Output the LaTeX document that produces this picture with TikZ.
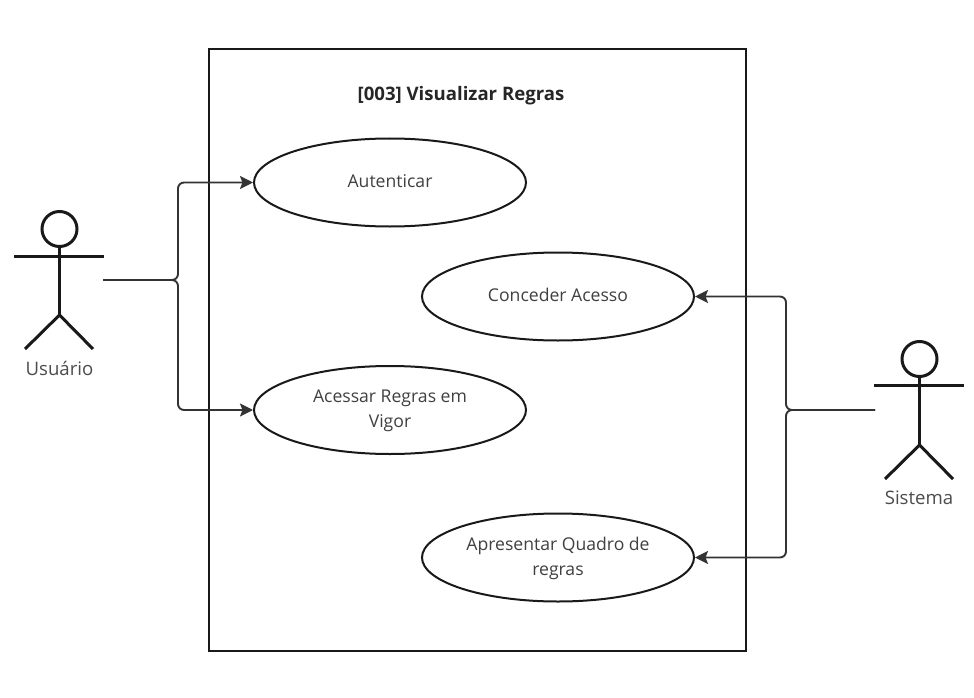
\documentclass[tikz,border=0pt]{standalone}
\usepackage{fontspec}
\setmainfont{Open Sans}
\usetikzlibrary{arrows.meta,shapes.geometric}
\tikzset{
  uc/.style={draw=black!90,line width=2bp,ellipse,minimum width=272bp,minimum height=88bp,inner sep=0pt},
  uctext/.style={text=black!75,font=\fontsize{17.6bp}{25bp}\selectfont,align=center,inner sep=0pt},
  lbl/.style={text=black!70,font=\fontsize{18.6bp}{20bp}\selectfont,inner sep=0pt},
  actorline/.style={draw=black!90,line width=3bp},
  conn/.style={draw=black!80,line width=1.9bp,rounded corners=6bp,-{Stealth[length=13bp,width=13bp,inset=2.5bp]}},
}
\begin{document}
\begin{tikzpicture}[x=1bp,y=-1bp]
\useasboundingbox (0,0) rectangle (974,698);
\fill[white] (0,0) rectangle (974,698);
\node[draw=black!90,line width=2bp,minimum width=537bp,minimum height=602bp,inner sep=0pt] (sys) at (477.5,350) {};
\node[font=\fontsize{18.6bp}{22bp}\selectfont\bfseries,text=black!85,inner sep=0pt] (title) at (461,96) {[003] Visualizar Regras};
\node[uc] (a) at (390,182.5) {};
\node[uc] (b) at (558,296.5) {};
\node[uc] (c) at (390,410) {};
\node[uc] (d) at (558,557.5) {};
\node[uctext] (at) at (390,181) {Autenticar};
\node[uctext] (bt) at (558,295) {Conceder Acesso};
\node[uctext] (ct) at (390,410.5) {Acessar Regras em\\Vigor};
\node[uctext] (dt) at (558,558.5) {Apresentar Quadro de\\regras};
% actor left
\node[draw=black!90,line width=3bp,circle,minimum size=35bp,inner sep=0pt] (h1) at (59.5,229) {};
\coordinate (s1) at (14,256); \coordinate (s1r) at (104,256);
\coordinate (w1) at (59.5,315); \coordinate (f1l) at (25,349); \coordinate (f1r) at (93,349);
\draw[actorline] (h1.south) -- (w1);
\draw[actorline] (s1) -- (s1r);
\draw[actorline] (f1l) -- (w1) -- (f1r);
\node[lbl] (u) at (59.5,368) {Usuário};
% actor right
\node[draw=black!90,line width=3bp,circle,minimum size=35bp,inner sep=0pt] (h2) at (919.5,359) {};
\coordinate (s2) at (874,385); \coordinate (s2r) at (964,385);
\coordinate (w2) at (919.5,445); \coordinate (f2l) at (885,479); \coordinate (f2r) at (953,479);
\draw[actorline] (h2.south) -- (w2);
\draw[actorline] (s2) -- (s2r);
\draw[actorline] (f2l) -- (w2) -- (f2r);
\node[lbl] (v) at (919,498) {Sistema};
% connectors
\coordinate (p1) at (103,280);
\coordinate (p2) at (875,410);
\draw[conn] (p1) -- (178,280) -- (178,182.5) -- (a.west);
\draw[conn] (p1) -- (178,280) -- (178,410) -- (c.west);
\draw[conn] (p2) -- (786,410) -- (786,296.5) -- (b.east);
\draw[conn] (p2) -- (786,410) -- (786,557.5) -- (d.east);
\end{tikzpicture}
\end{document}
